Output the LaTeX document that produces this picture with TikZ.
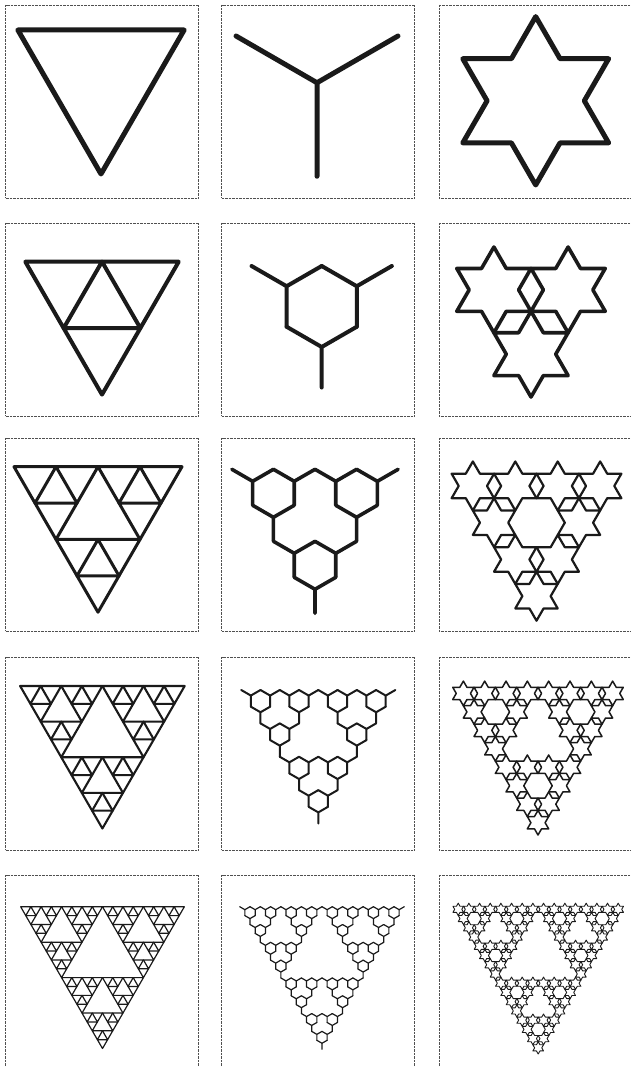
\documentclass[tikz,border=0pt]{standalone}
\definecolor{ink}{RGB}{26,26,26}
\definecolor{framecol}{RGB}{80,80,80}
\tikzset{
  fracline/.style={draw=ink,line join=round,line cap=round},
  framebox/.style={draw=framecol,line width=0.8pt,dash pattern=on 0.9pt off 0.5pt}
}
\newcommand\fractri{\draw[fracline] (150:1) -- (30:1) -- (270:1) -- cycle;}
\newcommand\fractree{\draw[fracline] (150:1) -- (0,0) -- (30:1) (0,0) -- (270:1);}
\newcommand\frachex{\draw[fracline] (90:1) -- (60:0.57735) -- (30:1) -- (0:0.57735) -- (330:1) -- (300:0.57735) -- (270:1) -- (240:0.57735) -- (210:1) -- (180:0.57735) -- (150:1) -- (120:0.57735) -- cycle;}
\newcommand\fractal[2]{\ifnum#1=0 #2\else\foreach \ang in {150,30,270}{\begin{scope}[shift={(\ang:0.5)},scale=0.5]\fractal{\numexpr#1-1\relax}{#2}\end{scope}}\fi}
% cx, cy (image coords), s, level, shape, line width
\newcommand\panel[6]{\begin{scope}[shift={(#1,-#2)},scale=#3,fracline/.append style={line width=#6pt}]\fractal{#4}{#5}\end{scope}}
\begin{document}
\begin{tikzpicture}[x=1pt,y=1pt]
\useasboundingbox (0,0) rectangle (630,-1067);
% frames
\foreach \fx in {5.5,221.5,439}{
  \foreach \fy in {5,223,438,657,875}{
    \draw[framebox] (\fx,-\fy) rectangle ++(193,-193);
  }
}
% column 1: Sierpinski triangles
\panel{101}{78}{96}{0}{\fractri}{5}
\panel{102}{306}{88.6}{1}{\fractri}{4}
\panel{98}{515.2}{97}{2}{\fractri}{3}
\panel{102.4}{733.5}{95}{3}{\fractri}{2.1}
\panel{102.5}{954}{94.5}{4}{\fractri}{1.2}
% column 2: trees
\panel{317}{82.75}{93.5}{0}{\fractree}{5}
\panel{321.7}{306.5}{81}{1}{\fractree}{4}
\panel{315}{517.3}{96}{2}{\fractree}{3.6}
\panel{318.3}{734.5}{89}{3}{\fractree}{2}
\panel{322}{954.2}{95}{4}{\fractree}{1.2}
% column 3: hexagrams
\panel{535.7}{100.8}{84.2}{0}{\frachex}{5}
\panel{531}{311.3}{85.7}{1}{\frachex}{3.6}
\panel{536.5}{522.7}{98}{2}{\frachex}{2.2}
\panel{538}{736.5}{98.5}{3}{\frachex}{1.5}
\panel{538.2}{955.5}{98.5}{4}{\frachex}{0.9}
\end{tikzpicture}
\end{document}
